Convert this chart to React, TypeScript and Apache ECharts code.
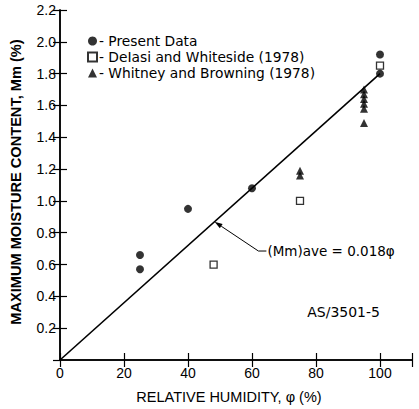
import React, { useEffect, useRef } from "react";
import * as echarts from "echarts";

const presentData: [number, number][] = [
  [25, 0.66], [25, 0.57], [40, 0.95], [60, 1.08], [100, 1.92], [100, 1.8],
];
const delasiData: [number, number][] = [
  [48, 0.6], [75, 1.0], [100, 1.85],
];
const whitneyData: [number, number][] = [
  [75, 1.16], [75, 1.19], [95, 1.7], [95, 1.67], [95, 1.64], [95, 1.61], [95, 1.58], [95, 1.49],
];
const fitLine: [number, number][] = [[0, 0], [100, 1.8]];
const seriesNames = ["Present Data", "DeIasi and Whiteside (1978)", "Whitney and Browning (1978)"];
const xTitle = "RELATIVE HUMIDITY, \u03C6 (%)";
const yTitle = "MAXIMUM MOISTURE CONTENT, Mm (%)";
const fitLabel = "(Mm)ave = 0.018\u03C6";
const specimenLabel = "AS/3501-5";
// annotation anchor points (data coordinates)
const arrowHead: [number, number] = [48.3, 0.869];
const arrowTail: [number, number] = [62, 0.685];
const labelStart: [number, number] = [64.5, 0.685];

const FONT = "Liberation Sans, Arial, sans-serif";
const FONT2 = "DejaVu Sans, sans-serif";

export default function App() {
  const ref = useRef<HTMLDivElement>(null);
  useEffect(() => {
    if (!ref.current) return;
    const chart = echarts.init(ref.current, null, { renderer: "svg" });
    const axisCommon = {
      axisLine: { show: true, lineStyle: { color: "#000", width: 1.5 } },
      axisTick: { show: true, inside: true, length: 7, lineStyle: { color: "#000", width: 1.2 } },
      splitLine: { show: false },
    };
    const option: any = {
      animation: false,
      backgroundColor: "#fff",
      textStyle: { fontFamily: FONT },
      grid: { left: 57, right: 7, top: 10, bottom: 43, containLabel: false },
      legend: {
        orient: "vertical",
        left: 82,
        top: 29,
        itemGap: 2,
        itemWidth: 9,
        itemHeight: 9,
        data: seriesNames,
        formatter: (n: string) => "- " + n,
        textStyle: { fontFamily: FONT2, fontSize: 13.8, color: "#000", padding: [0, 0, 0, -3] },
      },
      xAxis: [
        {
          type: "value", position: "bottom", min: 0, max: 110, interval: 20,
          ...axisCommon,
          axisLabel: {
            color: "#000", fontSize: 14, fontFamily: FONT, margin: 6,
            formatter: (v: number) => (v > 100 ? "" : String(v)),
          },
          name: xTitle, nameLocation: "middle", nameGap: 29,
          nameTextStyle: { color: "#000", fontSize: 14.5, fontFamily: FONT, padding: [0, 14, 0, 0] },
        },
        {
          type: "value", position: "top", min: 0, max: 110, interval: 20,
          ...axisCommon, axisLabel: { show: false },
        },
      ],
      yAxis: [
        {
          type: "value", position: "left", min: 0, max: 2.2, interval: 0.2,
          ...axisCommon,
          axisLabel: {
            color: "#000", fontSize: 14, fontFamily: FONT, margin: 4, showMinLabel: false,
            formatter: (v: number) => v.toFixed(1),
          },
          name: yTitle, nameLocation: "middle", nameGap: 37,
          nameTextStyle: { color: "#000", fontSize: 14.6, fontFamily: FONT, fontWeight: "bold", padding: [0, 0, 0, 6] },
        },
        {
          type: "value", position: "right", min: 0, max: 2.2, interval: 0.2,
          ...axisCommon, axisLabel: { show: false },
        },
      ],
      series: [
        {
          name: seriesNames[0], type: "scatter", data: presentData, symbol: "circle", symbolSize: 8,
          itemStyle: { color: "#000" }, z: 5,
        },
        {
          name: seriesNames[1], type: "scatter", data: delasiData, symbol: "rect", symbolSize: 7,
          itemStyle: { color: "#fff", borderColor: "#000", borderWidth: 1.3 }, z: 5,
        },
        {
          name: seriesNames[2], type: "scatter", data: whitneyData, symbol: "triangle", symbolSize: 8,
          itemStyle: { color: "#000" }, z: 5,
        },
        {
          name: "fit", type: "line", data: fitLine, symbol: "none",
          lineStyle: { color: "#000", width: 1.6 }, z: 3,
        },
      ],
    };
    chart.setOption(option);

    const px = (p: [number, number]) => chart.convertToPixel({ xAxisIndex: 0, yAxisIndex: 0 }, p) as number[];
    const h = px(arrowHead);
    const t = px(arrowTail);
    const l = px(labelStart);
    const dx = h[0] - t[0];
    const dy = h[1] - t[1];
    const len = Math.sqrt(dx * dx + dy * dy);
    const ux = dx / len, uy = dy / len;
    const back = [h[0] - ux * 8, h[1] - uy * 8];
    const perp = [-uy * 2.5, ux * 2.5];
    const sp = px([100, 0.3]);
    chart.setOption({
      graphic: [
        { type: "line", shape: { x1: t[0], y1: t[1], x2: back[0], y2: back[1] }, style: { stroke: "#000", lineWidth: 1 } },
        { type: "line", shape: { x1: t[0], y1: t[1], x2: l[0], y2: l[1] }, style: { stroke: "#000", lineWidth: 1 } },
        {
          type: "polygon",
          shape: { points: [[h[0], h[1]], [back[0] + perp[0], back[1] + perp[1]], [back[0] - perp[0], back[1] - perp[1]]] },
          style: { fill: "#000" },
        },
        {
          type: "text", x: l[0] + 1, y: l[1],
          style: { text: fitLabel, fill: "#000", font: `13.5px ${FONT2}`, textAlign: "left", textVerticalAlign: "middle" },
        },
        {
          type: "text", x: sp[0], y: sp[1],
          style: { text: specimenLabel, fill: "#000", font: `14px ${FONT2}`, textAlign: "right", textVerticalAlign: "middle" },
        },
      ],
    });
    return () => chart.dispose();
  }, []);
  return <div ref={ref} style={{ width: 419, height: 409, position: "absolute", left: 0, top: 0 }} />;
}
